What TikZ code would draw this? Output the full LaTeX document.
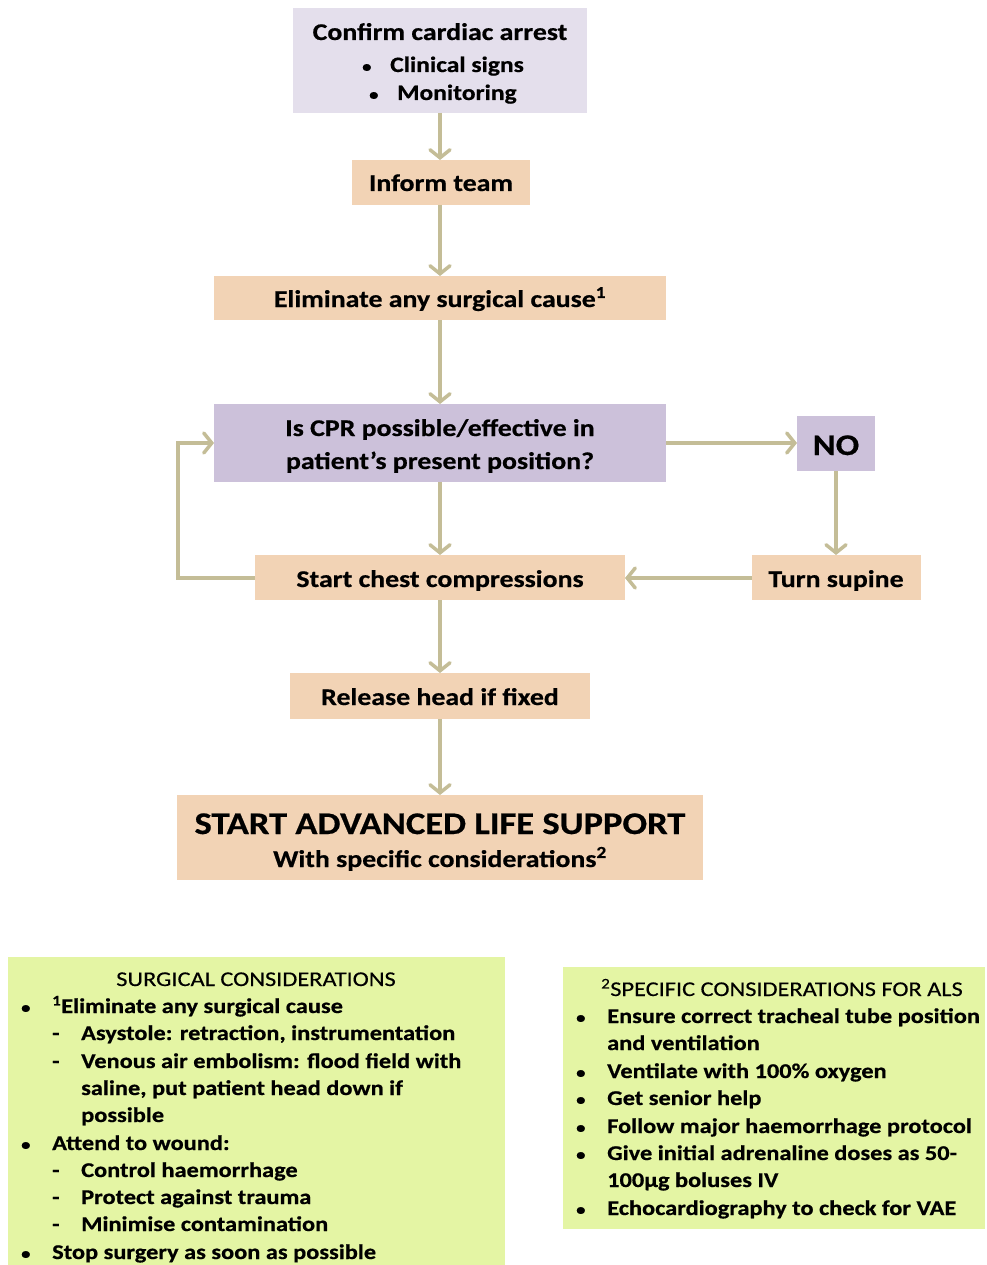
\documentclass[tikz,border=0pt]{standalone}
\usepackage{fontspec}
\setmainfont{Carlito}[FakeStretch=1.16,BoldFeatures={FakeBold=0.6}]
\newfontfamily\headfont{Carlito}[FakeStretch=1.16,FakeBold=0.35]
\usetikzlibrary{arrows.meta}
\definecolor{lav}{HTML}{E4DFEC}
\definecolor{purp}{HTML}{CCC1DA}
\definecolor{peach}{HTML}{F2D3B5}
\definecolor{lgreen}{HTML}{E4F5A4}
\definecolor{arr}{HTML}{C4BD97}
\newcommand{\smbul}{{\fontsize{16}{16}\selectfont\textbullet}}
\begin{document}
\begin{tikzpicture}[x=1pt,y=-1pt,
  boxl/.style={fill=lav,draw=none},
  boxp/.style={fill=purp,draw=none},
  boxo/.style={fill=peach,draw=none},
  boxg/.style={fill=lgreen,draw=none},
  flowtxt/.style={font=\fontsize{24}{28}\selectfont\bfseries,anchor=base,inner sep=0},
  listtxt/.style={font=\fontsize{21}{26}\selectfont\bfseries,anchor=base west,inner sep=0},
  headtxt/.style={font=\fontsize{21}{26}\selectfont\headfont,anchor=base,inner sep=0},
  conn/.style={draw=arr,line width=3.5pt,-{Straight Barb[length=8pt,width=20pt,line cap=round]}}
]
\useasboundingbox (0,0) rectangle (986,1265);
% boxes
\path[boxl] (293,8) rectangle (587,113);
\node[flowtxt] (t1) at (440,40) {Confirm cardiac arrest};
\node[listtxt,font=\fontsize{22}{26}\selectfont\bfseries] (t2b) at (362,72) {\smbul};
\node[listtxt,font=\fontsize{22}{26}\selectfont\bfseries] (t2) at (390,72) {Clinical signs};
\node[listtxt,font=\fontsize{22}{26}\selectfont\bfseries] (t3b) at (369,100) {\smbul};
\node[listtxt,font=\fontsize{22}{26}\selectfont\bfseries] (t3) at (397,100) {Monitoring};

\path[boxo] (352,160) rectangle (530,205);
\node[flowtxt] (inform) at (441,191) {Inform team};

\path[boxo] (214,276) rectangle (666,320);
\node[flowtxt] (elim) at (440,307) {Eliminate any surgical cause\textsuperscript{1}};

\path[boxp] (214,404) rectangle (666,482);
\node[flowtxt] (cpr1) at (440,436) {Is CPR possible/effective in};
\node[flowtxt] (cpr2) at (440,469) {patient’s present position?};

\path[boxp] (797,416) rectangle (875,471);
\node[flowtxt,font=\fontsize{30}{34}\selectfont\bfseries] (no) at (836,455) {NO};

\path[boxo] (255,555) rectangle (625,600);
\node[flowtxt] (chest) at (440,587) {Start chest compressions};

\path[boxo] (752,555) rectangle (921,600);
\node[flowtxt] (supine) at (836,587) {Turn supine};

\path[boxo] (290,673) rectangle (590,719);
\node[flowtxt] (release) at (440,705) {Release head if fixed};

\path[boxo] (177,795) rectangle (703,880);
\node[flowtxt,font=\fontsize{31.5}{36}\selectfont\bfseries] (als1) at (440,834) {START ADVANCED LIFE SUPPORT};
\node[flowtxt] (als2) at (440,867) {With specific considerations\textsuperscript{2}};

% connector coordinates
\coordinate (a1) at (440,113); \coordinate (b1) at (440,160);
\coordinate (a2) at (440,205); \coordinate (b2) at (440,276);
\coordinate (a3) at (440,320); \coordinate (b3) at (440,404);
\coordinate (a4) at (440,482); \coordinate (b4) at (440,555);
\coordinate (a5) at (440,600); \coordinate (b5) at (440,673);
\coordinate (a6) at (440,719); \coordinate (b6) at (440,795);
\coordinate (cprR) at (666,443); \coordinate (noL) at (797,443);
\coordinate (noB) at (836,471); \coordinate (supT) at (836,555);
\coordinate (supL) at (752,578); \coordinate (chR) at (625,578);
\coordinate (chL) at (255,578); \coordinate (cprL) at (214,443);
\coordinate (lpA) at (178,578); \coordinate (lpB) at (178,443);

\draw[conn] (a1) -- (b1);
\draw[conn] (a2) -- (b2);
\draw[conn] (a3) -- (b3);
\draw[conn] (a4) -- (b4);
\draw[conn] (a5) -- (b5);
\draw[conn] (a6) -- (b6);
\draw[conn] (cprR) -- (noL);
\draw[conn] (noB) -- (supT);
\draw[conn] (supL) -- (chR);
\draw[conn] (chL) -- (lpA) -- (lpB) -- (cprL);

% surgical considerations
\path[boxg] (8,957) rectangle (505,1265);
\node[headtxt] (sh) at (256,986) {SURGICAL CONSIDERATIONS};
\node[listtxt] (sb1) at (21,1013) {\smbul};
\node[listtxt] (s1) at (52,1013) {\textsuperscript{1}Eliminate any surgical cause};
\node[listtxt] (sd1) at (52,1040) {-};
\node[listtxt] (s2) at (81,1040) {Asystole: retraction, instrumentation};
\node[listtxt] (sd2) at (52,1068) {-};
\node[listtxt] (s3) at (81,1068) {Venous air embolism: flood field with};
\node[listtxt] (s4) at (81,1095) {saline, put patient head down if};
\node[listtxt] (s5) at (81,1122) {possible};
\node[listtxt] (sb2) at (21,1150) {\smbul};
\node[listtxt] (s6) at (52,1150) {Attend to wound:};
\node[listtxt] (sd3) at (52,1177) {-};
\node[listtxt] (s7) at (81,1177) {Control haemorrhage};
\node[listtxt] (sd4) at (52,1204) {-};
\node[listtxt] (s8) at (81,1204) {Protect against trauma};
\node[listtxt] (sd5) at (52,1231) {-};
\node[listtxt] (s9) at (81,1231) {Minimise contamination};
\node[listtxt] (sb3) at (21,1259) {\smbul};
\node[listtxt] (s10) at (52,1259) {Stop surgery as soon as possible};

% specific considerations
\path[boxg] (563,967) rectangle (985,1229);
\node[headtxt] (ph) at (782,996) {\textsuperscript{2}SPECIFIC CONSIDERATIONS FOR ALS};
\node[listtxt] (pb1) at (576,1023) {\smbul};
\node[listtxt] (p1) at (607,1023) {Ensure correct tracheal tube position};
\node[listtxt] (p2) at (607,1050) {and ventilation};
\node[listtxt] (pb2) at (576,1078) {\smbul};
\node[listtxt] (p3) at (607,1078) {Ventilate with 100\% oxygen};
\node[listtxt] (pb3) at (576,1105) {\smbul};
\node[listtxt] (p4) at (607,1105) {Get senior help};
\node[listtxt] (pb4) at (576,1133) {\smbul};
\node[listtxt] (p5) at (607,1133) {Follow major haemorrhage protocol};
\node[listtxt] (pb5) at (576,1160) {\smbul};
\node[listtxt] (p6) at (607,1160) {Give initial adrenaline doses as 50-};
\node[listtxt] (p7) at (607,1187) {100µg boluses IV};
\node[listtxt] (pb6) at (576,1215) {\smbul};
\node[listtxt] (p8) at (607,1215) {Echocardiography to check for VAE};
\end{tikzpicture}
\end{document}
